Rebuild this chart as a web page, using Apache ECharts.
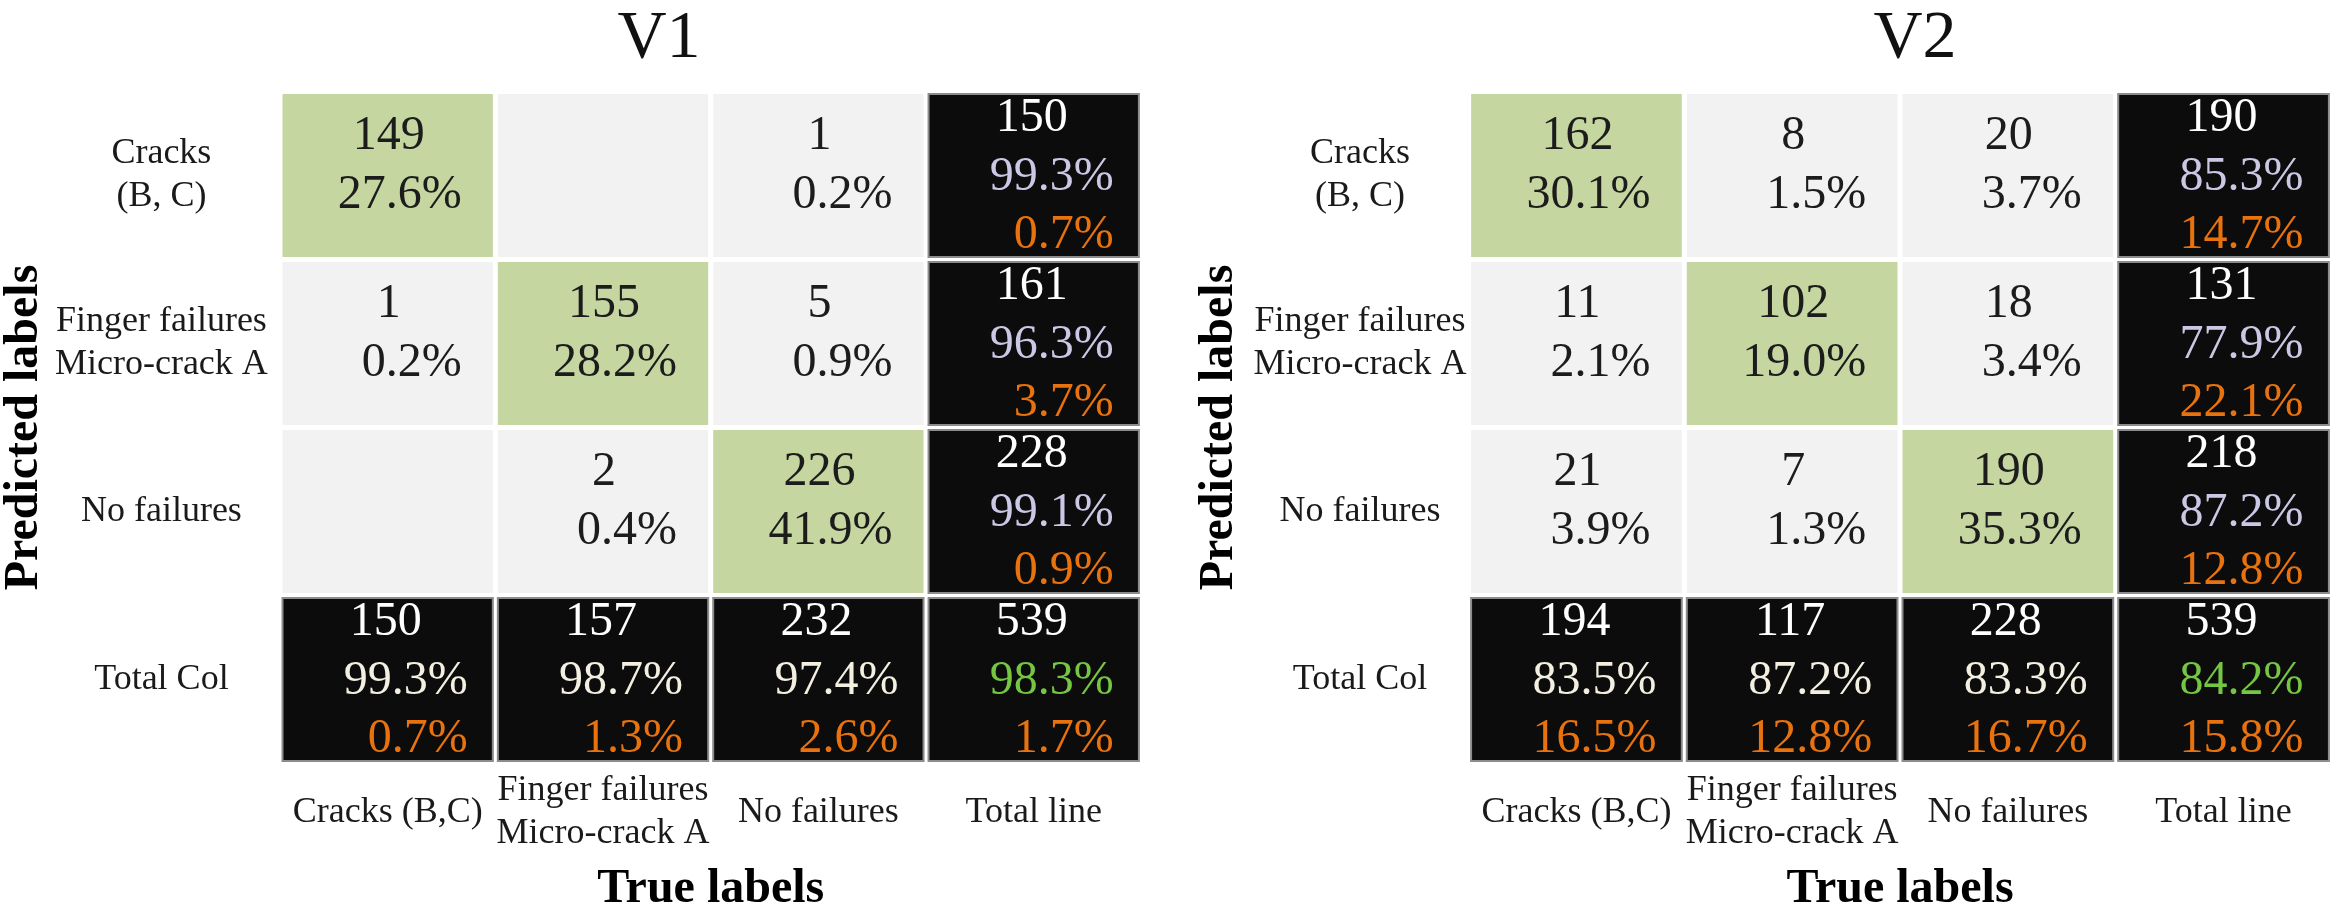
<!DOCTYPE html>
<html>
<head>
<meta charset="utf-8">
<script src="https://cdn.jsdelivr.net/npm/echarts@6/dist/echarts.min.js"></script>
<style>
  html, body { margin: 0; padding: 0; background: #fff; }
  #chart { width: 2342px; height: 922px; }
</style>
</head>
<body>
<div id="chart"></div>
<script>
// axis categories
const trueLabels = ['Cracks (B,C)', 'Finger failures\nMicro-crack A', 'No failures', 'Total line']
const predLabels = ['Cracks\n(B, C)', 'Finger failures\nMicro-crack A', 'No failures', 'Total Col']

// V1 confusion matrix (rows = predicted, cols = true)
const v1Counts = [
  [149, null, 1],
  [1, 155, 5],
  [null, 2, 226]
]
const v1Shares = [
  [27.6, null, 0.2],
  [0.2, 28.2, 0.9],
  [null, 0.4, 41.9]
]
const v1RowTotals = [150, 161, 228]
const v1RowCorrect = [99.3, 96.3, 99.1]
const v1RowError = [0.7, 3.7, 0.9]
const v1ColTotals = [150, 157, 232, 539]
const v1ColCorrect = [99.3, 98.7, 97.4, 98.3]
const v1ColError = [0.7, 1.3, 2.6, 1.7]

// V2 confusion matrix
const v2Counts = [
  [162, 8, 20],
  [11, 102, 18],
  [21, 7, 190]
]
const v2Shares = [
  [30.1, 1.5, 3.7],
  [2.1, 19.0, 3.4],
  [3.9, 1.3, 35.3]
]
const v2RowTotals = [190, 131, 218]
const v2RowCorrect = [85.3, 77.9, 87.2]
const v2RowError = [14.7, 22.1, 12.8]
const v2ColTotals = [194, 117, 228, 539]
const v2ColCorrect = [83.5, 87.2, 83.3, 84.2]
const v2ColError = [16.5, 12.8, 16.7, 15.8]

const FONT = 'Liberation Serif'
const GAP = 5
const pct = v => v.toFixed(1) + '%'

function buildCells(counts, shares, rowTotals, rowCorrect, rowError, colTotals, colCorrect, colError) {
  const cells = []
  for (let r = 0; r < 3; r++) {
    for (let c = 0; c < 3; c++) {
      const lines = counts[r][c] == null ? [] : [String(counts[r][c]), pct(shares[r][c])]
      cells.push({ col: c, row: r, kind: r === c ? 'diag' : 'off', lines, colors: ['#1c1c1c', '#1c1c1c'] })
    }
    cells.push({
      col: 3, row: r, kind: 'total',
      lines: [String(rowTotals[r]), pct(rowCorrect[r]), pct(rowError[r])],
      colors: ['#ffffff', '#cbc8e6', '#e8720e']
    })
  }
  for (let c = 0; c < 4; c++) {
    cells.push({
      col: c, row: 3, kind: 'total',
      lines: [String(colTotals[c]), pct(colCorrect[c]), pct(colError[c])],
      colors: ['#ffffff', c === 3 ? '#74c643' : '#f3f0e2', '#e8720e']
    })
  }
  return cells
}

const v1Cells = buildCells(v1Counts, v1Shares, v1RowTotals, v1RowCorrect, v1RowError, v1ColTotals, v1ColCorrect, v1ColError)
const v2Cells = buildCells(v2Counts, v2Shares, v2RowTotals, v2RowCorrect, v2RowError, v2ColTotals, v2ColCorrect, v2ColError)

const makeRender = cells => (params, api) => {
  const cell = cells[params.dataIndex]
  const p = api.coord([cell.col, cell.row])
  const size = api.size([1, 1])
  const w = size[0] - GAP
  const h = size[1] - GAP
  const x0 = p[0] - w / 2
  const y0 = p[1] - h / 2
  const isTotal = cell.kind === 'total'
  const children = [{
    type: 'rect',
    shape: { x: x0, y: y0, width: w, height: h },
    style: isTotal
      ? { fill: '#0c0c0c', stroke: '#8c8c8c', lineWidth: 2 }
      : { fill: cell.kind === 'diag' ? '#c5d6a1' : '#f2f2f2' }
  }]
  // baseline offsets from the cell top
  const baselines = isTotal ? [40, 99, 157] : [58, 117]
  cell.lines.forEach((t, i) => {
    const first = i === 0
    children.push({
      type: 'text',
      x: first ? p[0] + (isTotal ? -2 : 1) : p[0] + (isTotal ? 80 : 74),
      y: y0 + baselines[i] - 16,
      style: {
        text: t,
        fill: cell.colors[i],
        fontSize: 48,
        fontFamily: FONT,
        align: first ? 'center' : 'right',
        verticalAlign: 'middle'
      }
    })
  })
  return { type: 'group', children }
}

const grids = [
  { left: 278.6, top: 91.5, width: 862.8, height: 672 },
  { left: 1468.6, top: 91.5, width: 862.8, height: 672 }
]

const xAxisFor = gi => ({
  type: 'category', gridIndex: gi, data: trueLabels,
  axisLine: { show: false }, axisTick: { show: false }, splitLine: { show: false },
  axisLabel: { interval: 0, margin: 49, verticalAlign: 'middle', fontSize: 36, lineHeight: 43, fontFamily: FONT, color: '#1a1a1a' },
  name: 'True labels', nameLocation: 'middle', nameGap: 102,
  nameTextStyle: { fontSize: 48, fontWeight: 'bold', fontFamily: FONT, color: '#000' }
})

const yAxisFor = (gi, margin, nameGap) => ({
  type: 'category', gridIndex: gi, data: predLabels, inverse: true,
  axisLine: { show: false }, axisTick: { show: false }, splitLine: { show: false },
  axisLabel: { interval: 0, margin, align: 'center', fontSize: 36, lineHeight: 43, fontFamily: FONT, color: '#1a1a1a' },
  name: 'Predicted labels', nameLocation: 'middle', nameRotate: 90, nameGap,
  nameTextStyle: { fontSize: 48, fontWeight: 'bold', fontFamily: FONT, color: '#000' }
})

const option = {
  animation: false,
  backgroundColor: '#ffffff',
  textStyle: { fontFamily: FONT },
  title: [
    { text: 'V1', left: 659, top: 5, textAlign: 'center', padding: 0,
      textStyle: { fontSize: 68, fontWeight: 'normal', fontFamily: FONT, color: '#111' } },
    { text: 'V2', left: 1915, top: 5, textAlign: 'center', padding: 0,
      textStyle: { fontSize: 68, fontWeight: 'normal', fontFamily: FONT, color: '#111' } }
  ],
  grid: grids,
  xAxis: [xAxisFor(0), xAxisFor(1)],
  yAxis: [yAxisFor(0, 118.6, 231), yAxisFor(1, 108.6, 225)],
  series: [
    {
      type: 'custom', xAxisIndex: 0, yAxisIndex: 0, silent: true, clip: false,
      renderItem: makeRender(v1Cells),
      data: v1Cells.map(c => [c.col, c.row])
    },
    {
      type: 'custom', xAxisIndex: 1, yAxisIndex: 1, silent: true, clip: false,
      renderItem: makeRender(v2Cells),
      data: v2Cells.map(c => [c.col, c.row])
    }
  ]
}

const chart = echarts.init(document.getElementById('chart'))
chart.setOption(option)
</script>
</body>
</html>
